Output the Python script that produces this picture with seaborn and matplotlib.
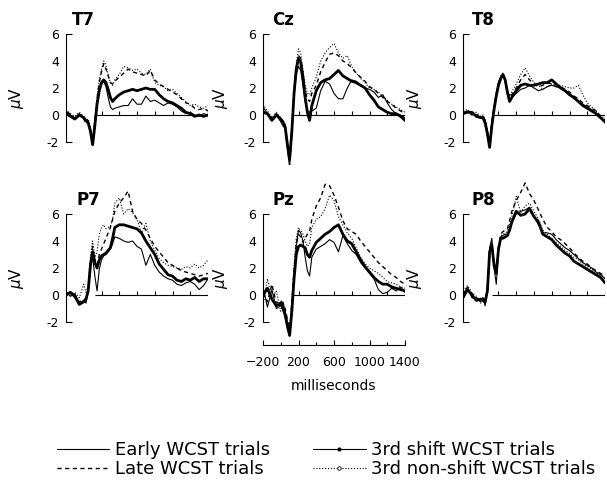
import pandas as pd
import matplotlib
matplotlib.use("Agg")
import matplotlib.pyplot as plt
import matplotlib.transforms as mtransforms
from matplotlib.lines import Line2D
import seaborn as sns

# time points (ms) shared by all waveforms
times = [-200, -150, -100, -50, 0, 25, 50, 75, 100, 125,
         150, 175, 200, 225, 250, 275, 300, 325, 350, 400,
         450, 500, 550, 600, 650, 700, 750, 800, 850, 900,
         950, 1000, 1050, 1100, 1150, 1200, 1250, 1300, 1350, 1400]

conditions = ["Early WCST trials", "Late WCST trials",
              "3rd shift WCST trials", "3rd non-shift WCST trials"]
electrodes = ["T7", "Cz", "T8", "P7", "Pz", "P8"]

# --- T7 ---
t7_early = [0.3, 0.0, -0.2, 0.1, -0.2, -0.5, -0.4, -1.0, -2.0, -0.6,
            0.9, 1.9, 2.3, 2.5, 2.1, 1.3, 0.6, 0.4, 0.5, 0.6,
            0.7, 0.7, 1.2, 0.8, 0.8, 1.4, 1.0, 1.1, 0.9, 0.7,
            0.9, 0.8, 0.6, 0.3, 0.1, 0.2, 0.0, -0.1, 0.1, 0.0]
t7_late = [0.2, 0.1, -0.3, 0.0, -0.3, -0.6, -0.5, -1.2, -2.1, -0.5,
           1.2, 2.4, 3.2, 3.8, 3.4, 2.9, 2.4, 2.3, 2.5, 2.8,
           3.1, 3.4, 3.2, 3.1, 3.0, 2.9, 3.3, 2.6, 2.3, 2.1,
           1.9, 1.7, 1.5, 1.2, 0.9, 0.8, 0.5, 0.4, 0.5, 0.3]
t7_shift = [0.1, -0.1, -0.3, 0.0, -0.2, -0.4, -0.6, -1.2, -2.2, -0.8,
            0.8, 1.8, 2.4, 2.6, 2.4, 1.9, 1.3, 1.0, 1.2, 1.5,
            1.7, 1.8, 1.9, 1.8, 1.9, 2.0, 1.9, 1.9, 1.5, 1.2,
            1.0, 0.9, 0.7, 0.5, 0.2, 0.1, -0.1, 0.0, -0.1, 0.0]
t7_nonshift = [0.4, 0.1, -0.1, 0.2, -0.1, -0.4, -0.3, -0.9, -1.8, -0.3,
               1.4, 2.6, 3.4, 4.0, 3.7, 3.0, 2.4, 2.2, 2.6, 3.0,
               3.6, 3.5, 3.3, 3.4, 3.1, 3.0, 3.4, 2.4, 2.2, 2.1,
               1.8, 1.9, 1.6, 1.3, 1.0, 0.7, 0.8, 0.6, 0.5, 0.7]

# --- Cz ---
cz_early = [0.6, 0.1, -0.3, 0.0, -0.5, -0.8, -1.0, -2.5, -3.9, -1.5,
            1.5, 3.0, 3.6, 3.3, 2.2, 1.0, 0.3, 0.2, 0.3, 0.5,
            1.8, 2.5, 2.3, 1.6, 1.2, 1.2, 2.0, 2.6, 2.5, 2.2,
            2.0, 1.9, 1.7, 1.3, 1.5, 0.9, 0.4, 0.1, 0.0, -0.2]
cz_late = [0.3, 0.0, -0.2, 0.1, -0.3, -0.6, -0.8, -2.0, -3.2, -1.0,
           1.8, 3.5, 4.4, 4.2, 3.0, 1.8, 1.2, 1.0, 1.6, 2.2,
           3.2, 3.9, 4.5, 4.6, 4.4, 4.0, 3.8, 3.5, 3.1, 2.8,
           2.5, 2.1, 1.9, 1.6, 1.3, 1.0, 0.8, 0.5, 0.3, 0.1]
cz_shift = [0.2, 0.1, -0.4, 0.0, -0.3, -0.5, -0.9, -2.2, -3.3, -1.2,
            1.6, 3.4, 4.2, 3.9, 2.8, 1.3, 0.2, -0.4, 0.7, 1.8,
            2.4, 2.6, 2.7, 3.0, 3.3, 2.9, 2.7, 2.5, 2.4, 2.2,
            2.0, 1.5, 1.1, 0.6, 0.4, 0.2, 0.1, 0.1, -0.1, -0.4]
cz_nonshift = [0.8, 0.3, -0.2, 0.2, -0.2, -0.5, -0.7, -2.0, -3.0, -0.8,
               2.0, 3.8, 4.9, 4.6, 3.3, 2.2, 1.6, 1.5, 2.0, 2.8,
               4.0, 4.6, 5.0, 5.3, 4.6, 4.2, 4.4, 3.6, 3.1, 2.7,
               2.4, 2.0, 1.9, 1.7, 1.4, 1.1, 0.8, 0.6, 0.4, 0.2]

# --- T8 ---
t8_early = [0.2, 0.3, 0.1, 0.0, -0.2, -0.1, -0.4, -1.2, -2.2, -0.5,
            0.6, 1.6, 2.4, 2.8, 2.9, 2.5, 1.6, 1.1, 1.3, 1.6,
            1.9, 2.0, 2.2, 2.0, 1.8, 1.9, 2.1, 2.2, 2.1, 2.0,
            1.8, 1.5, 1.2, 1.0, 0.8, 0.6, 0.4, 0.1, -0.2, -0.6]
t8_late = [0.1, 0.2, 0.0, 0.1, -0.3, -0.2, -0.5, -1.3, -2.3, -0.6,
           0.5, 1.5, 2.3, 2.7, 3.0, 2.6, 1.8, 1.3, 1.5, 2.0,
           2.6, 3.0, 2.6, 2.3, 2.1, 2.2, 2.4, 2.3, 2.1, 2.1,
           1.9, 1.7, 1.4, 1.2, 0.9, 0.7, 0.5, 0.3, -0.1, -0.4]
t8_shift = [0.1, 0.2, 0.2, -0.1, -0.2, -0.2, -0.6, -1.4, -2.4, -0.8,
            0.4, 1.4, 2.2, 2.7, 3.0, 2.6, 1.7, 1.0, 1.3, 1.8,
            2.2, 2.3, 2.2, 2.2, 2.3, 2.4, 2.4, 2.6, 2.3, 2.0,
            1.8, 1.5, 1.3, 1.0, 0.7, 0.5, 0.3, 0.1, -0.2, -0.5]
t8_nonshift = [0.3, 0.4, 0.1, 0.2, -0.1, 0.0, -0.3, -1.1, -2.1, -0.4,
               0.7, 1.7, 2.5, 2.9, 3.1, 2.7, 1.9, 1.4, 1.7, 2.3,
               3.0, 3.5, 2.9, 2.4, 2.2, 1.9, 2.1, 2.3, 2.2, 2.2,
               2.1, 2.0, 2.0, 2.2, 1.5, 0.9, 0.6, 0.3, 0.0, -0.3]

# --- P7 ---
p7_early = [0.2, -0.1, 0.1, -0.6, -0.4, -0.6, 0.2, 2.0, 2.8, 1.4,
            0.3, 1.9, 2.6, 2.9, 3.0, 3.2, 3.4, 3.8, 4.3, 4.2,
            4.0, 3.9, 4.0, 3.6, 3.4, 2.2, 3.0, 2.2, 1.7, 1.4,
            1.2, 1.1, 0.8, 0.7, 0.9, 1.0, 0.8, 0.4, 0.7, 1.2]
p7_late = [0.1, 0.2, -0.2, -0.5, -0.3, -0.4, 0.4, 2.4, 3.6, 2.6,
           2.2, 3.0, 3.4, 3.8, 4.2, 4.6, 5.0, 5.6, 6.2, 6.8,
           7.2, 7.7, 6.2, 5.6, 5.3, 4.8, 4.2, 3.6, 3.2, 2.8,
           2.4, 2.2, 2.0, 1.8, 1.7, 1.6, 1.5, 1.4, 1.5, 1.6]
p7_shift = [0.0, 0.2, -0.1, -0.7, -0.5, -0.3, 0.3, 2.2, 3.2, 2.4,
            2.0, 2.6, 2.9, 3.0, 3.1, 3.3, 3.5, 4.2, 5.0, 5.2,
            5.2, 5.1, 5.0, 4.9, 4.6, 4.0, 3.5, 3.0, 2.3, 1.9,
            1.5, 1.4, 1.1, 1.0, 1.2, 1.1, 1.3, 1.0, 1.2, 1.2]
p7_nonshift = [0.3, 0.0, 0.2, -0.2, 0.8, 0.2, 0.6, 2.8, 4.0, 2.8,
               3.2, 4.5, 5.0, 5.2, 4.9, 5.0, 5.1, 5.6, 6.8, 7.2,
               6.0, 6.4, 6.1, 5.6, 4.6, 5.3, 4.0, 3.3, 2.7, 2.4,
               2.2, 2.1, 2.0, 1.9, 2.1, 2.0, 2.3, 2.0, 2.2, 2.6]

# --- Pz ---
pz_early = [0.6, -0.9, 0.4, -1.0, -0.8, -0.5, -1.2, -2.0, -2.9, -1.0,
            1.5, 3.6, 4.8, 4.6, 4.0, 2.8, 1.8, 1.4, 2.8, 3.4,
            3.6, 3.8, 4.1, 3.9, 3.2, 4.4, 3.8, 3.3, 3.0, 2.4,
            2.0, 1.6, 1.2, 0.4, 0.1, 0.2, 0.5, 0.3, 0.6, 0.2]
pz_late = [0.2, -0.5, 0.8, -0.6, -0.4, -0.8, -1.0, -1.8, -2.7, -0.6,
           1.8, 3.8, 4.5, 4.3, 3.9, 4.2, 4.5, 4.7, 5.6, 6.6,
           7.2, 8.2, 8.1, 7.4, 6.5, 5.5, 4.9, 4.7, 4.5, 4.0,
           3.6, 3.2, 2.8, 2.4, 2.1, 1.8, 1.5, 1.3, 1.0, 0.8]
pz_shift = [0.0, 0.5, -0.3, -0.8, -0.6, -1.0, -1.5, -2.3, -3.0, -1.2,
            1.2, 3.0, 3.6, 3.7, 3.6, 3.5, 3.0, 2.8, 3.3, 3.9,
            4.2, 4.5, 4.7, 5.0, 5.2, 4.5, 4.0, 3.8, 3.2, 2.6,
            2.1, 1.7, 1.3, 1.0, 0.8, 0.8, 0.6, 0.5, 0.4, 0.3]
pz_nonshift = [-0.8, 1.2, -0.2, 0.3, -1.2, -0.7, -1.4, -2.1, -2.6, -0.4,
               2.2, 4.2, 5.0, 4.8, 4.5, 4.0, 3.6, 3.8, 5.0, 5.6,
               5.8, 6.4, 7.4, 7.0, 5.8, 5.2, 4.6, 4.2, 3.5, 2.8,
               2.3, 2.0, 1.8, 1.6, 1.3, 1.0, 0.9, 0.8, 0.6, 0.5]

# --- P8 ---
p8_early = [0.0, 0.6, -0.2, -0.3, -0.5, -0.3, -0.8, 0.5, 3.5, 4.2,
            2.0, 0.8, 3.2, 4.3, 4.4, 4.5, 4.5, 4.9, 5.4, 6.0,
            6.2, 6.3, 6.5, 5.8, 5.2, 4.6, 4.6, 4.5, 4.1, 3.8,
            3.5, 3.3, 3.0, 2.7, 2.4, 2.2, 2.0, 1.7, 1.5, 1.2]
p8_late = [0.2, 0.3, 0.1, -0.2, -0.4, -0.2, -0.4, 0.4, 3.0, 3.6,
           2.4, 1.8, 3.6, 4.5, 4.7, 4.8, 4.9, 5.5, 6.2, 7.0,
           7.6, 8.3, 7.5, 7.0, 6.3, 5.6, 5.0, 4.7, 4.3, 4.1,
           3.8, 3.5, 3.1, 2.8, 2.5, 2.3, 2.0, 1.8, 1.6, 1.4]
p8_shift = [-0.2, 0.4, 0.0, -0.4, -0.3, -0.4, -0.5, 0.3, 3.2, 3.7,
            2.2, 1.6, 3.4, 4.2, 4.2, 4.3, 4.4, 4.8, 5.4, 6.2,
            5.9, 6.0, 6.4, 5.8, 5.4, 4.5, 4.3, 4.1, 3.7, 3.4,
            3.1, 2.9, 2.5, 2.3, 2.1, 1.9, 1.7, 1.5, 1.3, 0.9]
p8_nonshift = [0.3, 0.7, 0.2, -0.1, -0.6, -0.3, -0.5, 0.6, 3.4, 3.8,
               2.3, 1.7, 3.6, 4.4, 4.5, 4.6, 4.7, 5.2, 5.8, 7.3,
               6.1, 6.6, 6.8, 6.2, 5.6, 4.8, 4.5, 4.2, 3.9, 3.6,
               3.3, 3.1, 2.8, 2.6, 2.3, 2.1, 1.9, 1.7, 1.5, 1.3]

waves = {
    "T7": [t7_early, t7_late, t7_shift, t7_nonshift],
    "Cz": [cz_early, cz_late, cz_shift, cz_nonshift],
    "T8": [t8_early, t8_late, t8_shift, t8_nonshift],
    "P7": [p7_early, p7_late, p7_shift, p7_nonshift],
    "Pz": [pz_early, pz_late, pz_shift, pz_nonshift],
    "P8": [p8_early, p8_late, p8_shift, p8_nonshift],
}

rows = []
for el in electrodes:
    for cond, vals in zip(conditions, waves[el]):
        for t, v in zip(times, vals):
            rows.append({"electrode": el, "condition": cond, "ms": t, "uV": v})
df = pd.DataFrame(rows)

sns.set_style("white")
plt.rcParams["font.family"] = ["DejaVu Sans"]
plt.rcParams["text.color"] = "black"
plt.rcParams["axes.labelcolor"] = "black"
plt.rcParams["xtick.color"] = "black"
plt.rcParams["ytick.color"] = "black"

W, H = 607, 487
fig = plt.figure(figsize=(W / 100, H / 100), dpi=100)

# layout in pixels: left spine x, zero-line y; 13.5 px per microvolt
col_x = [66, 263, 463]
row_zero = [115, 295]
px_per_uv = 13.5
ymin, ymax = -3.7, 9.0
title_x = {"T7": -136, "Cz": -94, "T8": -105, "P7": -87, "Pz": -94, "P8": -106}
ylab_x = [17, 221, 415]

palette = {c: "black" for c in conditions}
dash_map = {conditions[0]: "", conditions[1]: (3, 2.5),
            conditions[2]: "", conditions[3]: (1, 1.6)}
size_map = {conditions[0]: 0.8, conditions[1]: 1.0,
            conditions[2]: 2.0, conditions[3]: 0.8}

for i, el in enumerate(electrodes):
    r, c = divmod(i, 3)
    top_px = row_zero[r] - ymax * px_per_uv
    bot_px = row_zero[r] - ymin * px_per_uv
    ax = fig.add_axes([col_x[c] / W, 1 - bot_px / H, 142 / W, (bot_px - top_px) / H])
    ax.set_facecolor("none")

    sub = df[df["electrode"] == el]
    sns.lineplot(data=sub, x="ms", y="uV", hue="condition", style="condition",
                 size="condition", hue_order=conditions, style_order=conditions,
                 size_order=conditions, palette=palette, dashes=dash_map,
                 sizes=size_map, estimator=None, sort=False, legend=False, ax=ax)

    ax.set_xlim(-200, 1400)
    ax.set_ylim(ymin, ymax)

    # zero line with small upward ticks
    ax.hlines(0, 130, 1400, color="black", lw=0.8)
    ax.vlines(range(200, 1401, 200), 0, 0.3, color="black", lw=0.8)

    sns.despine(ax=ax, top=True, right=True, bottom=(el != "Pz"))
    ax.spines["left"].set_bounds(-2, 6)
    ax.spines["left"].set_linewidth(0.8)
    ax.spines["left"].set_color("black")
    ax.set_yticks([-2, 0, 2, 4, 6])
    ax.set_yticklabels(["-2", "0", "2", "4", "6"])
    ax.tick_params(axis="y", direction="in", length=4.5, width=0.8,
                   pad=5, labelsize=9, colors="black", left=True)
    for tk in ax.yaxis.get_major_ticks()[1:4]:
        tk.tick1line.set_visible(False)

    if el == "Pz":
        ax.spines["bottom"].set_bounds(-200, 1400)
        ax.spines["bottom"].set_linewidth(0.8)
        ax.spines["bottom"].set_color("black")
        ax.set_xticks([-200, 200, 600, 1000, 1400])
        ax.set_xticks([0, 400, 800, 1200], minor=True)
        ax.tick_params(axis="x", which="major", direction="in", length=3.5,
                       width=0.8, pad=8, labelsize=9, bottom=True, colors="black")
        ax.tick_params(axis="x", which="minor", direction="in", length=2,
                       width=0.8, bottom=True, colors="black")
        ax.set_xlabel("milliseconds", fontsize=10, labelpad=7, color="black")
    else:
        ax.set_xticks([])
        ax.set_xlabel("")
    ax.set_ylabel("")

    ax.text(title_x[el], 6.65, el, fontsize=12, fontweight="bold",
            ha="left", va="baseline", color="black")
    trans = mtransforms.blended_transform_factory(fig.transFigure, ax.transData)
    ax.text(ylab_x[c] / W, 1.3, r"$\mu$V", transform=trans, rotation=90,
            ha="center", va="center", fontsize=11, color="black")

handles = [
    Line2D([], [], color="black", lw=0.8),
    Line2D([], [], color="black", lw=1.0, dashes=(3, 2.5)),
    Line2D([], [], color="black", lw=0.8, marker=".", markersize=4),
    Line2D([], [], color="black", lw=0.8, dashes=(1, 1.6), marker="o",
           markersize=2.5, markerfacecolor="white", markeredgewidth=0.6),
]
leg = fig.legend(handles, conditions, ncol=2, loc="upper left",
                 bbox_to_anchor=(57 / W, 1 - 441 / H), frameon=False, fontsize=13,
                 handlelength=2.9, handletextpad=0.3, columnspacing=2.4,
                 labelspacing=0.05, borderpad=0, borderaxespad=0, numpoints=1)
for txt in leg.get_texts():
    txt.set_color("black")

fig.savefig("out.png", dpi=100)
